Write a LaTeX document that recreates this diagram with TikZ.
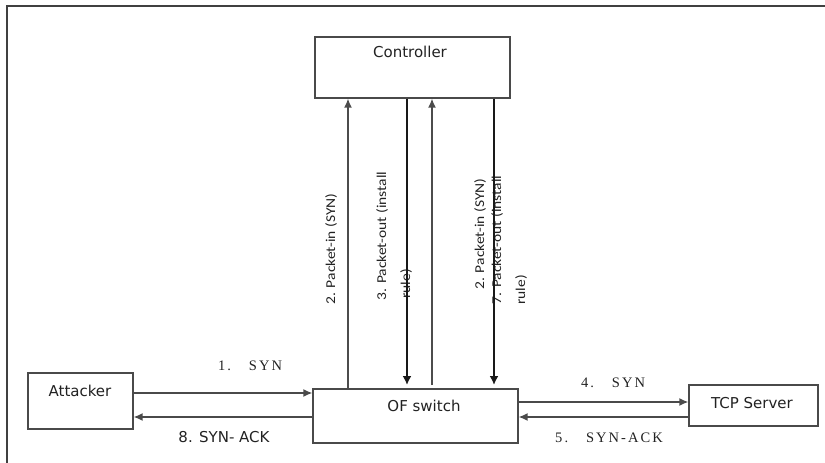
\documentclass[tikz,border=0pt]{standalone}
\usepackage{fontspec}
\usepackage{graphicx}
\setmainfont{DejaVu Sans}
\newfontfamily\lblserif[LetterSpace=14]{Liberation Serif}
\newfontfamily\lblnarrow{Carlito}
\usetikzlibrary{arrows.meta}
\definecolor{linegray}{HTML}{4A4A4A}
\definecolor{txtgray}{HTML}{222222}
\tikzset{
  box/.style={draw=linegray, line width=1.3pt, fill=white, inner sep=0pt},
  boxtext/.style={font=\fontsize{15}{17}\selectfont, text=txtgray, inner sep=0pt},
  harrow/.style={draw=linegray, line width=1.4pt, -{Latex[length=9pt,width=8pt]}},
  uparrow/.style={draw=black!70, line width=1.4pt, -{Latex[length=9pt,width=8pt]}},
  downarrow/.style={draw=black!90, line width=1.9pt, -{Latex[length=9pt,width=9pt]}},
  vlab/.style={rotate=90, font=\lblnarrow\fontsize{13.5}{15}\selectfont, text=txtgray, inner sep=0pt},
  slab/.style={font=\lblserif\fontsize{14.5}{16}\selectfont, text=txtgray, inner sep=0pt},
  frame/.style={draw=black!75, line width=1.2pt}
}
\begin{document}
\begin{tikzpicture}[x=1pt,y=-1pt]
\useasboundingbox (0,0) rectangle (825,463);
\draw[frame] (7,463) -- (7,6) -- (825,6);

% boxes
\node[box, minimum width=195, minimum height=61] (ctrl) at (412.5,67.5) {};
\node[box, minimum width=105, minimum height=56] (att) at (80.5,401) {};
\node[box, minimum width=205, minimum height=54] (ofs) at (415.5,416) {};
\node[box, minimum width=129, minimum height=41] (tcp) at (753.5,405.5) {};

\node[boxtext] (ctrlt) at (410,52) {Controller};
\node[boxtext] (attt) at (80,391) {Attacker};
\node[boxtext] (ofst) at (424,406) {OF switch};
\node[boxtext] (tcpt) at (752,403) {TCP Server};

% helper coordinates
\coordinate (ya) at (0,393);
\coordinate (yb) at (0,417);
\coordinate (yc) at (0,402);
\coordinate (yd) at (0,417);
\coordinate (ve) at (0,385);
\coordinate (x1) at (348,0);
\coordinate (x2) at (407,0);
\coordinate (x3) at (432,0);
\coordinate (x4) at (494,0);

% rotated labels (drawn before lines so lines overlap them)
\node[vlab] (l1) at (331,249) {\scalebox{1.15}[1]{2. Packet-in (SYN)}};
\node[vlab] (l2) at (382,236) {\scalebox{1.15}[1]{3. Packet-out (install}};
\node[vlab] (l3) at (406,284) {\scalebox{1.15}[1]{rule)}};
\node[vlab] (l4) at (480,234) {\scalebox{1.15}[1]{2. Packet-in (SYN)}};
\node[vlab] (l5) at (497,240) {\scalebox{1.15}[1]{7. Packet-out (install}};
\node[vlab] (l6) at (521,290) {\scalebox{1.15}[1]{rule)}};

% vertical arrows
\draw[uparrow] (ofs.north -| x1) -- (ctrl.south -| x1);
\draw[downarrow] (ctrl.south -| x2) -- (ve -| x2);
\draw[uparrow] (ve -| x3) -- (ctrl.south -| x3);
\draw[downarrow] (ctrl.south -| x4) -- (ve -| x4);

% horizontal arrows
\draw[harrow] (att.east |- ya) -- (ofs.west |- ya);
\draw[harrow] (ofs.west |- yb) -- (att.east |- yb);
\draw[harrow] (ofs.east |- yc) -- (tcp.west |- yc);
\draw[harrow] (tcp.west |- yd) -- (ofs.east |- yd);

% horizontal labels
\node[slab] (s1) at (250,366) {1.\hspace{18pt}SYN};
\node[boxtext] (s8) at (224,437) {8. SYN- ACK};
\node[slab] (s4) at (613,383) {4.\hspace{18pt}SYN};
\node[slab] (s5) at (609,438) {5.\hspace{18pt}SYN-ACK};
\end{tikzpicture}
\end{document}
